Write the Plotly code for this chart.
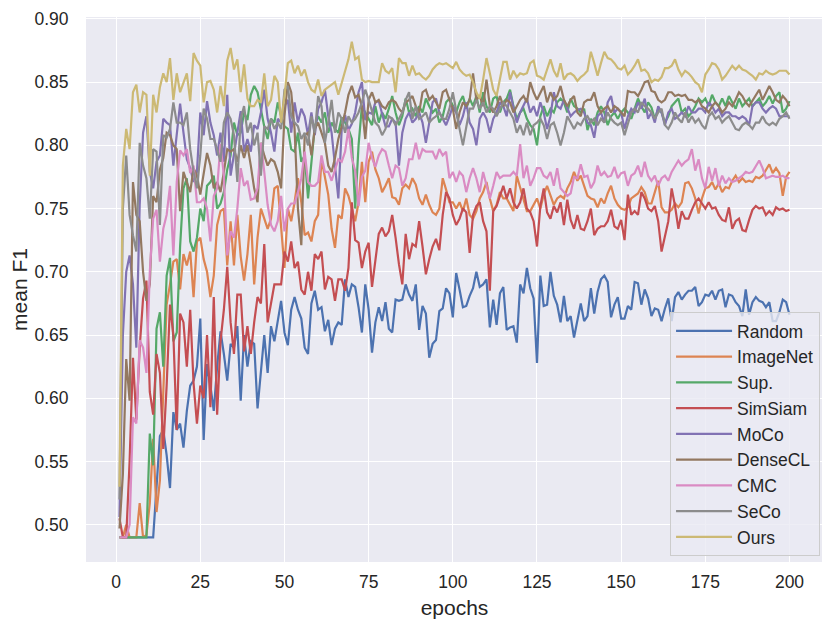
import plotly.graph_objects as go

epochs = list(range(1, 201))

random_f1 = [
    0.49, 0.49, 0.49, 0.49, 0.49, 0.49, 0.49, 0.49, 0.49, 0.49,
    0.49, 0.53, 0.57, 0.575, 0.555, 0.529, 0.589, 0.575, 0.58, 0.561,
    0.59, 0.61, 0.614, 0.625, 0.663, 0.567, 0.627, 0.61, 0.59, 0.625,
    0.653, 0.635, 0.614, 0.643, 0.64, 0.657, 0.598, 0.65, 0.625, 0.645,
    0.643, 0.592, 0.62, 0.65, 0.62, 0.657, 0.645, 0.66, 0.677, 0.652,
    0.642, 0.67, 0.68, 0.67, 0.663, 0.64, 0.635, 0.675, 0.685, 0.67,
    0.672, 0.653, 0.662, 0.642, 0.655, 0.66, 0.658, 0.694, 0.68, 0.69,
    0.688, 0.672, 0.652, 0.69, 0.67, 0.636, 0.66, 0.672, 0.661, 0.676,
    0.655, 0.652, 0.678, 0.677, 0.678, 0.69, 0.682, 0.677, 0.69, 0.654,
    0.673, 0.667, 0.632, 0.643, 0.646, 0.669, 0.671, 0.687, 0.683, 0.664,
    0.699, 0.686, 0.672, 0.673, 0.681, 0.687, 0.70, 0.688, 0.69, 0.694,
    0.656, 0.678, 0.658, 0.683, 0.688, 0.654, 0.656, 0.657, 0.644, 0.69,
    0.683, 0.703, 0.687, 0.679, 0.628, 0.697, 0.673, 0.674, 0.70, 0.681,
    0.674, 0.66, 0.681, 0.661, 0.665, 0.648, 0.661, 0.675, 0.661, 0.665,
    0.687, 0.667, 0.684, 0.694, 0.697, 0.692, 0.664, 0.674, 0.68, 0.663,
    0.663, 0.673, 0.67, 0.692, 0.691, 0.674, 0.686, 0.679, 0.665, 0.671,
    0.67, 0.661, 0.671, 0.679, 0.661, 0.68, 0.684, 0.678, 0.682, 0.685,
    0.685, 0.688, 0.673, 0.676, 0.682, 0.681, 0.685, 0.678, 0.685, 0.686,
    0.672, 0.682, 0.681, 0.676, 0.673, 0.665, 0.686, 0.666, 0.676, 0.68,
    0.677, 0.676, 0.672, 0.676, 0.661, 0.661, 0.668, 0.678, 0.676, 0.666,
]

imagenet_f1 = [
    0.49, 0.49, 0.50, 0.49, 0.49, 0.49, 0.517, 0.49, 0.492, 0.517,
    0.568, 0.51, 0.535, 0.598, 0.674, 0.69, 0.708, 0.71, 0.686, 0.714,
    0.705, 0.716, 0.68, 0.724, 0.727, 0.71, 0.70, 0.68, 0.697, 0.737,
    0.748, 0.75, 0.705, 0.74, 0.705, 0.745, 0.712, 0.693, 0.714, 0.745,
    0.69, 0.727, 0.75, 0.742, 0.734, 0.742, 0.766, 0.768, 0.734, 0.703,
    0.75, 0.74, 0.755, 0.774, 0.755, 0.729, 0.731, 0.724, 0.74, 0.745,
    0.789, 0.776, 0.761, 0.734, 0.719, 0.745, 0.742, 0.766, 0.76, 0.75,
    0.74, 0.755, 0.787, 0.755, 0.787, 0.795, 0.781, 0.774, 0.763, 0.768,
    0.774, 0.759, 0.758, 0.753, 0.766, 0.769, 0.766, 0.774, 0.769, 0.758,
    0.753, 0.761, 0.753, 0.747, 0.745, 0.75, 0.774, 0.765, 0.755, 0.755,
    0.75, 0.755, 0.748, 0.758, 0.745, 0.742, 0.748, 0.758, 0.763, 0.771,
    0.758, 0.748, 0.753, 0.763, 0.758, 0.758, 0.753, 0.748, 0.776, 0.766,
    0.758, 0.748, 0.748, 0.753, 0.758, 0.75, 0.761, 0.768, 0.761, 0.753,
    0.758, 0.76, 0.758, 0.766, 0.771, 0.779, 0.772, 0.776, 0.768, 0.76,
    0.758, 0.757, 0.751, 0.758, 0.754, 0.762, 0.768, 0.758, 0.753, 0.75,
    0.749, 0.751, 0.758, 0.76, 0.762, 0.767, 0.763, 0.754, 0.754, 0.763,
    0.772, 0.751, 0.747, 0.747, 0.749, 0.754, 0.751, 0.755, 0.77, 0.771,
    0.766, 0.758, 0.746, 0.758, 0.766, 0.767, 0.771, 0.765, 0.77, 0.763,
    0.767, 0.766, 0.772, 0.776, 0.771, 0.774, 0.771, 0.772, 0.771, 0.775,
    0.774, 0.776, 0.78, 0.785, 0.778, 0.782, 0.778, 0.76, 0.775, 0.779,
]

sup_f1 = [
    0.49, 0.49, 0.49, 0.49, 0.49, 0.49, 0.49, 0.49, 0.49, 0.572,
    0.547, 0.655, 0.668, 0.625, 0.697, 0.711, 0.645, 0.652, 0.72, 0.766,
    0.774, 0.724, 0.716, 0.727, 0.75, 0.74, 0.768, 0.771, 0.776, 0.75,
    0.754, 0.763, 0.781, 0.792, 0.818, 0.808, 0.81, 0.826, 0.82, 0.84,
    0.847, 0.842, 0.829, 0.815, 0.805, 0.821, 0.818, 0.834, 0.823, 0.815,
    0.813, 0.797, 0.795, 0.81, 0.787, 0.792, 0.758, 0.787, 0.815, 0.823,
    0.818, 0.826, 0.81, 0.818, 0.813, 0.81, 0.822, 0.818, 0.813, 0.805,
    0.75, 0.80, 0.831, 0.826, 0.821, 0.816, 0.831, 0.818, 0.826, 0.821,
    0.829, 0.839, 0.826, 0.816, 0.823, 0.837, 0.826, 0.829, 0.823, 0.831,
    0.826, 0.837, 0.831, 0.826, 0.829, 0.818, 0.823, 0.834, 0.837, 0.831,
    0.826, 0.834, 0.839, 0.829, 0.837, 0.831, 0.839, 0.826, 0.842, 0.831,
    0.826, 0.837, 0.839, 0.826, 0.834, 0.837, 0.844, 0.831, 0.821, 0.826,
    0.829, 0.821, 0.816, 0.813, 0.80, 0.823, 0.831, 0.823, 0.829, 0.826,
    0.834, 0.837, 0.834, 0.826, 0.837, 0.831, 0.829, 0.826, 0.829, 0.812,
    0.821, 0.816, 0.826, 0.831, 0.826, 0.816, 0.823, 0.826, 0.821, 0.826,
    0.829, 0.826, 0.821, 0.829, 0.837, 0.831, 0.826, 0.834, 0.83, 0.821,
    0.829, 0.826, 0.818, 0.823, 0.831, 0.834, 0.837, 0.826, 0.829, 0.823,
    0.826, 0.831, 0.837, 0.834, 0.837, 0.831, 0.84, 0.834, 0.831, 0.837,
    0.831, 0.839, 0.834, 0.829, 0.837, 0.831, 0.834, 0.837, 0.831, 0.834,
    0.837, 0.831, 0.834, 0.839, 0.833, 0.839, 0.842, 0.826, 0.829, 0.835,
]

simsiam_f1 = [
    0.505, 0.49, 0.49, 0.55, 0.632, 0.583, 0.64, 0.679, 0.693, 0.605,
    0.587, 0.635, 0.62, 0.56, 0.61, 0.674, 0.65, 0.575, 0.667, 0.66,
    0.625, 0.67, 0.612, 0.58, 0.61, 0.60, 0.65, 0.593, 0.68, 0.587,
    0.645, 0.67, 0.704, 0.66, 0.635, 0.682, 0.682, 0.637, 0.657, 0.635,
    0.66, 0.68, 0.675, 0.722, 0.66, 0.674, 0.69, 0.69, 0.69, 0.716,
    0.708, 0.724, 0.703, 0.708, 0.686, 0.682, 0.70, 0.685, 0.714, 0.71,
    0.716, 0.686, 0.696, 0.694, 0.677, 0.694, 0.694, 0.685, 0.703, 0.755,
    0.725, 0.723, 0.703, 0.716, 0.723, 0.688, 0.708, 0.73, 0.735, 0.728,
    0.732, 0.745, 0.727, 0.706, 0.69, 0.73, 0.71, 0.722, 0.72, 0.74,
    0.72, 0.698, 0.71, 0.72, 0.726, 0.717, 0.745, 0.763, 0.758, 0.745,
    0.737, 0.742, 0.75, 0.747, 0.715, 0.745, 0.752, 0.755, 0.74, 0.732,
    0.685, 0.748, 0.752, 0.76, 0.768, 0.758, 0.766, 0.755, 0.75, 0.755,
    0.766, 0.75, 0.747, 0.74, 0.72, 0.752, 0.766, 0.747, 0.742, 0.752,
    0.747, 0.755, 0.737, 0.757, 0.741, 0.734, 0.745, 0.734, 0.733, 0.74,
    0.75, 0.729, 0.734, 0.736, 0.736, 0.74, 0.749, 0.736, 0.734, 0.741,
    0.725, 0.761, 0.745, 0.748, 0.745, 0.763, 0.758, 0.75, 0.748, 0.752,
    0.74, 0.716, 0.729, 0.74, 0.766, 0.752, 0.734, 0.748, 0.742, 0.742,
    0.749, 0.755, 0.758, 0.754, 0.75, 0.755, 0.75, 0.751, 0.745, 0.741,
    0.74, 0.751, 0.734, 0.74, 0.742, 0.733, 0.732, 0.741, 0.749, 0.752,
    0.75, 0.751, 0.745, 0.748, 0.745, 0.751, 0.749, 0.75, 0.748, 0.749,
]

moco_f1 = [
    0.506, 0.65, 0.70, 0.713, 0.69, 0.64, 0.753, 0.81, 0.823, 0.779,
    0.766, 0.787, 0.792, 0.821, 0.818, 0.816, 0.784, 0.81, 0.833, 0.81,
    0.789, 0.782, 0.771, 0.779, 0.826, 0.808, 0.835, 0.818, 0.808, 0.792,
    0.81, 0.787, 0.84, 0.776, 0.792, 0.81, 0.827, 0.795, 0.805, 0.795,
    0.816, 0.813, 0.826, 0.844, 0.821, 0.81, 0.795, 0.821, 0.818, 0.831,
    0.836, 0.81, 0.834, 0.818, 0.829, 0.823, 0.808, 0.826, 0.808, 0.829,
    0.834, 0.844, 0.823, 0.81, 0.785, 0.758, 0.813, 0.824, 0.812, 0.817,
    0.826, 0.842, 0.85, 0.82, 0.826, 0.825, 0.834, 0.835, 0.825, 0.815,
    0.815, 0.821, 0.818, 0.784, 0.81, 0.821, 0.826, 0.818, 0.821, 0.826,
    0.818, 0.802, 0.818, 0.834, 0.837, 0.826, 0.821, 0.816, 0.823, 0.831,
    0.826, 0.816, 0.823, 0.834, 0.818, 0.813, 0.80, 0.821, 0.826, 0.821,
    0.81, 0.821, 0.826, 0.834, 0.831, 0.823, 0.842, 0.829, 0.818, 0.826,
    0.831, 0.837, 0.826, 0.831, 0.823, 0.834, 0.826, 0.813, 0.823, 0.842,
    0.831, 0.829, 0.836, 0.829, 0.823, 0.826, 0.828, 0.829, 0.826, 0.818,
    0.816, 0.806, 0.823, 0.826, 0.818, 0.834, 0.839, 0.826, 0.829, 0.826,
    0.813, 0.823, 0.829, 0.826, 0.834, 0.829, 0.837, 0.821, 0.826, 0.818,
    0.831, 0.826, 0.816, 0.826, 0.829, 0.821, 0.823, 0.826, 0.823, 0.831,
    0.826, 0.826, 0.829, 0.829, 0.826, 0.834, 0.831, 0.826, 0.829, 0.823,
    0.826, 0.826, 0.823, 0.823, 0.821, 0.823, 0.821, 0.816, 0.831, 0.834,
    0.834, 0.829, 0.826, 0.829, 0.831, 0.829, 0.823, 0.823, 0.823, 0.823,
]

densecl_f1 = [
    0.497, 0.54, 0.631, 0.598, 0.771, 0.745, 0.74, 0.70, 0.677, 0.69,
    0.76, 0.755, 0.781, 0.79, 0.81, 0.808, 0.80, 0.797, 0.748, 0.779,
    0.771, 0.763, 0.782, 0.776, 0.761, 0.776, 0.794, 0.784, 0.766, 0.771,
    0.763, 0.779, 0.797, 0.795, 0.797, 0.787, 0.80, 0.79, 0.80, 0.784,
    0.766, 0.755, 0.802, 0.792, 0.784, 0.789, 0.787, 0.779, 0.766, 0.823,
    0.85, 0.842, 0.813, 0.75, 0.721, 0.808, 0.81, 0.792, 0.813, 0.818,
    0.81, 0.802, 0.784, 0.779, 0.79, 0.805, 0.815, 0.826, 0.84, 0.847,
    0.838, 0.84, 0.831, 0.805, 0.836, 0.842, 0.834, 0.836, 0.831, 0.829,
    0.834, 0.836, 0.834, 0.829, 0.826, 0.834, 0.836, 0.839, 0.831, 0.826,
    0.842, 0.844, 0.836, 0.839, 0.834, 0.829, 0.842, 0.844, 0.836, 0.829,
    0.813, 0.826, 0.834, 0.831, 0.836, 0.857, 0.836, 0.839, 0.831, 0.852,
    0.831, 0.826, 0.831, 0.839, 0.831, 0.836, 0.834, 0.826, 0.831, 0.836,
    0.839, 0.834, 0.85, 0.842, 0.836, 0.842, 0.847, 0.834, 0.842, 0.836,
    0.839, 0.847, 0.836, 0.831, 0.836, 0.839, 0.826, 0.823, 0.834, 0.836,
    0.836, 0.842, 0.831, 0.826, 0.829, 0.831, 0.826, 0.831, 0.829, 0.826,
    0.823, 0.843, 0.842, 0.842, 0.839, 0.844, 0.85, 0.851, 0.843, 0.842,
    0.836, 0.834, 0.836, 0.842, 0.842, 0.839, 0.84, 0.839, 0.84, 0.836,
    0.836, 0.834, 0.836, 0.831, 0.829, 0.826, 0.831, 0.834, 0.831, 0.826,
    0.829, 0.834, 0.831, 0.836, 0.842, 0.839, 0.834, 0.831, 0.835, 0.839,
    0.844, 0.836, 0.842, 0.847, 0.842, 0.836, 0.834, 0.839, 0.836, 0.831,
]

cmc_f1 = [
    0.49, 0.49, 0.49, 0.50, 0.585, 0.58, 0.646, 0.64, 0.62, 0.70,
    0.742, 0.749, 0.708, 0.734, 0.745, 0.768, 0.713, 0.771, 0.796, 0.792,
    0.797, 0.778, 0.784, 0.755, 0.755, 0.758, 0.75, 0.724, 0.76, 0.766,
    0.801, 0.776, 0.713, 0.732, 0.727, 0.75, 0.782, 0.768, 0.772, 0.757,
    0.758, 0.766, 0.802, 0.779, 0.753, 0.737, 0.732, 0.74, 0.76, 0.732,
    0.75, 0.754, 0.754, 0.763, 0.774, 0.795, 0.771, 0.768, 0.768, 0.771,
    0.792, 0.779, 0.779, 0.772, 0.781, 0.789, 0.787, 0.795, 0.813, 0.79,
    0.78, 0.752, 0.775, 0.78, 0.802, 0.79, 0.783, 0.792, 0.797, 0.795,
    0.784, 0.774, 0.784, 0.782, 0.768, 0.774, 0.789, 0.789, 0.802, 0.789,
    0.797, 0.795, 0.795, 0.795, 0.789, 0.797, 0.792, 0.795, 0.774, 0.779,
    0.771, 0.779, 0.776, 0.763, 0.774, 0.782, 0.774, 0.763, 0.779, 0.768,
    0.758, 0.768, 0.779, 0.774, 0.776, 0.776, 0.776, 0.779, 0.776, 0.801,
    0.774, 0.784, 0.768, 0.774, 0.782, 0.782, 0.776, 0.774, 0.779, 0.768,
    0.782, 0.766, 0.763, 0.76, 0.762, 0.775, 0.774, 0.785, 0.775, 0.776,
    0.766, 0.771, 0.784, 0.776, 0.779, 0.775, 0.776, 0.783, 0.774, 0.778,
    0.779, 0.768, 0.776, 0.778, 0.784, 0.775, 0.787, 0.776, 0.772, 0.776,
    0.768, 0.774, 0.776, 0.772, 0.779, 0.783, 0.788, 0.784, 0.787, 0.789,
    0.797, 0.78, 0.789, 0.774, 0.766, 0.783, 0.772, 0.782, 0.768, 0.776,
    0.77, 0.774, 0.771, 0.772, 0.774, 0.776, 0.779, 0.778, 0.779, 0.783,
    0.788, 0.782, 0.774, 0.775, 0.776, 0.775, 0.775, 0.776, 0.774, 0.774,
]

seco_f1 = [
    0.52, 0.75, 0.792, 0.745, 0.729, 0.716, 0.802, 0.784, 0.774, 0.742,
    0.797, 0.795, 0.737, 0.808, 0.806, 0.813, 0.834, 0.818, 0.818, 0.816,
    0.826, 0.797, 0.779, 0.766, 0.792, 0.829, 0.821, 0.805, 0.805, 0.797,
    0.787, 0.818, 0.826, 0.821, 0.808, 0.771, 0.821, 0.831, 0.81, 0.818,
    0.80, 0.81, 0.776, 0.815, 0.813, 0.821, 0.813, 0.818, 0.813, 0.844,
    0.847, 0.823, 0.818, 0.815, 0.805, 0.81, 0.80, 0.823, 0.81, 0.839,
    0.831, 0.802, 0.818, 0.836, 0.81, 0.826, 0.821, 0.81, 0.823, 0.818,
    0.821, 0.826, 0.834, 0.844, 0.836, 0.826, 0.818, 0.815, 0.808, 0.813,
    0.823, 0.821, 0.816, 0.821, 0.826, 0.836, 0.842, 0.821, 0.831, 0.821,
    0.823, 0.826, 0.818, 0.821, 0.823, 0.826, 0.821, 0.821, 0.829, 0.842,
    0.826, 0.813, 0.80, 0.816, 0.829, 0.829, 0.836, 0.829, 0.834, 0.826,
    0.831, 0.829, 0.823, 0.829, 0.834, 0.831, 0.826, 0.821, 0.81, 0.816,
    0.808, 0.818, 0.808, 0.816, 0.818, 0.821, 0.816, 0.805, 0.816, 0.818,
    0.81, 0.80, 0.81, 0.823, 0.818, 0.813, 0.818, 0.816, 0.821, 0.823,
    0.818, 0.821, 0.816, 0.821, 0.818, 0.826, 0.821, 0.818, 0.816, 0.818,
    0.808, 0.818, 0.826, 0.829, 0.826, 0.834, 0.831, 0.829, 0.826, 0.821,
    0.826, 0.829, 0.816, 0.813, 0.818, 0.826, 0.821, 0.818, 0.826, 0.818,
    0.823, 0.818, 0.821, 0.816, 0.813, 0.823, 0.826, 0.821, 0.823, 0.818,
    0.821, 0.823, 0.818, 0.813, 0.812, 0.816, 0.818, 0.816, 0.813, 0.818,
    0.818, 0.823, 0.818, 0.816, 0.818, 0.816, 0.821, 0.823, 0.826, 0.821,
]

ours_f1 = [
    0.53, 0.784, 0.813, 0.797, 0.842, 0.848, 0.826, 0.842, 0.84, 0.776,
    0.84, 0.826, 0.846, 0.857, 0.85, 0.869, 0.836, 0.857, 0.842, 0.85,
    0.857, 0.835, 0.873, 0.867, 0.863, 0.834, 0.85, 0.851, 0.844, 0.826,
    0.847, 0.831, 0.867, 0.877, 0.86, 0.868, 0.842, 0.864, 0.837, 0.831,
    0.831, 0.836, 0.834, 0.857, 0.831, 0.836, 0.855, 0.85, 0.818, 0.839,
    0.865, 0.867, 0.857, 0.863, 0.855, 0.86, 0.85, 0.844, 0.842, 0.852,
    0.839, 0.844, 0.846, 0.848, 0.85, 0.84, 0.85, 0.858, 0.868, 0.882,
    0.868, 0.87, 0.852, 0.85, 0.851, 0.85, 0.85, 0.85, 0.865, 0.859,
    0.857, 0.861, 0.842, 0.869, 0.865, 0.865, 0.855, 0.863, 0.856, 0.857,
    0.854, 0.852, 0.855, 0.86, 0.863, 0.865, 0.864, 0.865, 0.863, 0.861,
    0.866, 0.86, 0.857, 0.855, 0.856, 0.85, 0.842, 0.837, 0.852, 0.869,
    0.857, 0.844, 0.839, 0.853, 0.866, 0.866, 0.852, 0.859, 0.854, 0.857,
    0.856, 0.857, 0.865, 0.867, 0.855, 0.854, 0.852, 0.86, 0.868, 0.859,
    0.854, 0.865, 0.852, 0.856, 0.857, 0.855, 0.851, 0.854, 0.856, 0.859,
    0.874, 0.865, 0.855, 0.865, 0.874, 0.869, 0.868, 0.865, 0.861, 0.86,
    0.863, 0.856, 0.859, 0.863, 0.868, 0.859, 0.86, 0.857, 0.85, 0.852,
    0.851, 0.854, 0.861, 0.861, 0.863, 0.868, 0.86, 0.855, 0.859, 0.857,
    0.854, 0.85, 0.848, 0.842, 0.856, 0.86, 0.865, 0.864, 0.86, 0.852,
    0.855, 0.859, 0.863, 0.86, 0.863, 0.86, 0.859, 0.857, 0.855, 0.852,
    0.857, 0.856, 0.859, 0.857, 0.856, 0.857, 0.859, 0.859, 0.859, 0.856,
]

names = ['Random', 'ImageNet', 'Sup.', 'SimSiam', 'MoCo', 'DenseCL', 'CMC', 'SeCo', 'Ours']
series = [random_f1, imagenet_f1, sup_f1, simsiam_f1, moco_f1,
          densecl_f1, cmc_f1, seco_f1, ours_f1]
# seaborn "deep" palette
colors = ['#4C72B0', '#DD8452', '#55A868', '#C44E52', '#8172B3',
          '#937860', '#DA8BC3', '#8C8C8C', '#CCB974']

fig = go.Figure()
for name, vals, col in zip(names, series, colors):
    fig.add_trace(go.Scatter(
        x=epochs, y=vals, mode='lines', name=name,
        line=dict(color=col, width=2.2),
    ))

# the page body adds an 8px offset, margins are compensated for it
font = 'Liberation Sans, Arial, sans-serif'
fig.update_layout(
    width=830, height=631,
    margin=dict(l=78, r=15, t=9, b=77),
    paper_bgcolor='white',
    plot_bgcolor='#EAEAF2',
    font=dict(family=font, size=17.5, color='#262626'),
    showlegend=True,
    legend=dict(
        x=0.996, y=0.011, xanchor='right', yanchor='bottom',
        bgcolor='rgba(234,234,242,0.8)', bordercolor='#CCCCCC', borderwidth=1,
        itemwidth=56, font=dict(size=17.5),
    ),
    xaxis=dict(
        title=dict(text='epochs', standoff=9),
        range=[-8.95, 209.95],
        tickvals=[0, 25, 50, 75, 100, 125, 150, 175, 200],
        showgrid=True, gridcolor='white', gridwidth=1.3,
        zeroline=False, showline=False, automargin=False,
        ticks='outside', ticklen=4, tickcolor='rgba(0,0,0,0)',
    ),
    yaxis=dict(
        title=dict(text='mean F1', standoff=5),
        range=[0.4705, 0.9015],
        tickvals=[0.50, 0.55, 0.60, 0.65, 0.70, 0.75, 0.80, 0.85, 0.90],
        tickformat='.2f',
        showgrid=True, gridcolor='white', gridwidth=1.3,
        zeroline=False, showline=False, automargin=False,
        ticks='outside', ticklen=13, tickcolor='rgba(0,0,0,0)',
        ticklabeloverflow='allow',
    ),
)

fig.write_html("out.html")
